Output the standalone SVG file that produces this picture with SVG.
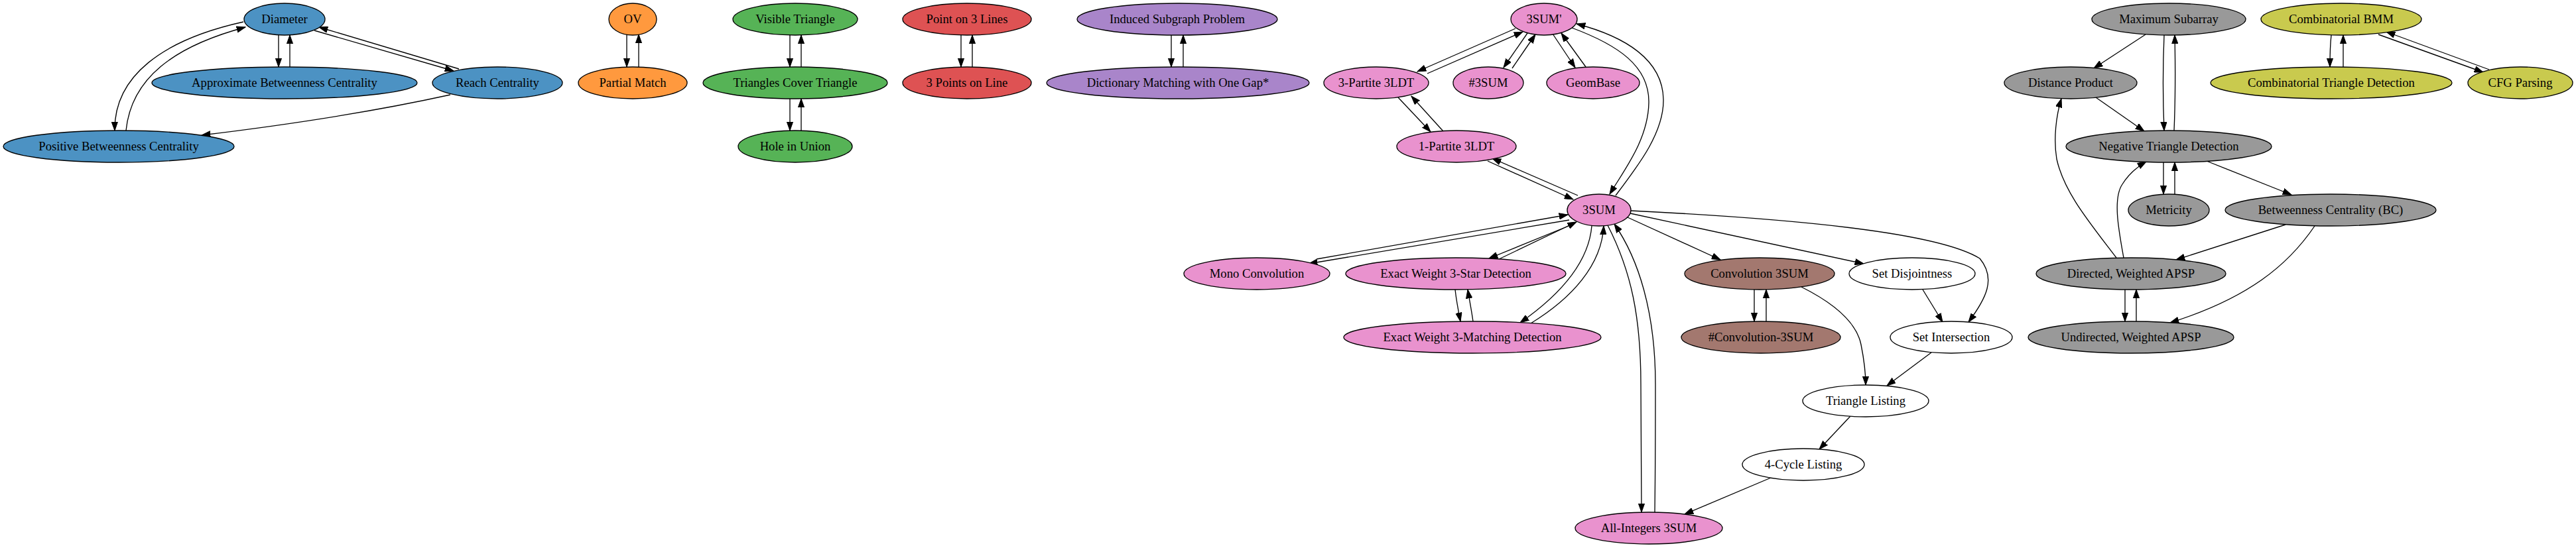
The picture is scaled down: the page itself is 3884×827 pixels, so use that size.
<svg xmlns="http://www.w3.org/2000/svg" width="3884" height="827" viewBox="0 0 3884 827">
<defs>
<marker id="ah" viewBox="0 0 14 10" refX="13.3" refY="5" markerWidth="14" markerHeight="10" markerUnits="userSpaceOnUse" orient="auto">
<path d="M0,0.3 L13.3,5 L0,9.7 z" fill="#000" stroke="#000" stroke-width="1"/>
</marker>
</defs>
<style>
.n ellipse{stroke:#000;stroke-width:1.33}
.n text{font-family:"Liberation Serif","Times New Roman",serif;font-size:18.67px;text-anchor:middle;fill:#000}
.blue{fill:#4c92c3}.orange{fill:#ff993e}.green{fill:#56b356}.red{fill:#de5253}.purple{fill:#a985ca}
.pink{fill:#e992ce}.brown{fill:#a3786f}.gray{fill:#999999}.olive{fill:#c9ca4e}.white{fill:#ffffff}
#edges path{fill:none;stroke:#000;stroke-width:1.33;marker-end:url(#ah)}
</style>
<rect width="3884" height="827" fill="#fff"/>
<g id="edges">
<path d="M420,53 L420,101"/>
<path d="M437,101 L437,53"/>
<path d="M474,46 L684,107"/>
<path d="M692,104 L481,41"/>
<path d="M367,33 C245,60 172,115 173,197"/>
<path d="M190,197 C198,118 262,70 370,41"/>
<path d="M679,143 Q520,178 304,204"/>
<path d="M945,52 L945,101"/>
<path d="M963,101 L963,52"/>
<path d="M1191,53 L1191,101"/>
<path d="M1208,101 L1208,53"/>
<path d="M1191,149 L1191,197"/>
<path d="M1208,197 L1208,149"/>
<path d="M1449,53 L1449,101"/>
<path d="M1466,101 L1466,53"/>
<path d="M1766,53 L1766,101"/>
<path d="M1784,101 L1784,53"/>
<path d="M2285,43 L2137,108"/>
<path d="M2152,111 L2296,48"/>
<path d="M2303,50 L2267,102"/>
<path d="M2280,103 L2315,52"/>
<path d="M2341,51 L2375,102"/>
<path d="M2391,101 L2354,50"/>
<path d="M2108,147 L2157,199"/>
<path d="M2176,198 L2128,145"/>
<path d="M2243,243 L2372,301"/>
<path d="M2379,295 L2250,239"/>
<path d="M2370,42 C2440,68 2487,100 2486,155 C2485,210 2450,255 2427,293"/>
<path d="M2436,295 C2470,250 2509,200 2508,150 C2507,90 2450,55 2377,36"/>
<path d="M2366,332 L1973,398"/>
<path d="M1985,391 L2364,324"/>
<path d="M2370,339 L2245,390"/>
<path d="M2258,392 L2377,335"/>
<path d="M2400,341 C2395,400 2345,450 2292,487"/>
<path d="M2308,488 C2370,450 2415,400 2418,341"/>
<path d="M2194,437 C2196,455 2199,470 2202,485"/>
<path d="M2221,485 C2219,470 2216,455 2213,437"/>
<path d="M2424,340 C2460,410 2474,480 2474,580 C2474,650 2475,720 2475,773"/>
<path d="M2495,773 C2496,700 2496,640 2496,580 C2496,470 2470,390 2434,338"/>
<path d="M2454,328 L2594,392"/>
<path d="M2458,322 L2810,398"/>
<path d="M2459,318 C2700,330 2920,350 2985,390 C3010,420 2995,450 2968,486"/>
<path d="M2645,437 L2645,485"/>
<path d="M2663,485 L2663,437"/>
<path d="M2716,433 C2770,460 2800,490 2806,520 C2811,545 2813,565 2813,581"/>
<path d="M2899,437 L2929,486"/>
<path d="M2912,532 L2845,582"/>
<path d="M2790,628 L2743,678"/>
<path d="M2670,721 L2540,776"/>
<path d="M3235,52 L3157,103"/>
<path d="M3263,53 C3261,100 3261,150 3263,197"/>
<path d="M3278,197 C3280,150 3280,100 3279,53"/>
<path d="M3160,147 L3233,198"/>
<path d="M3191,389 C3150,335 3112,290 3101,240 C3096,210 3100,175 3108,149"/>
<path d="M3202,389 C3195,350 3185,300 3200,278 C3210,262 3222,252 3236,244"/>
<path d="M3262,245 L3262,293"/>
<path d="M3279,293 L3279,245"/>
<path d="M3327,243 L3455,294"/>
<path d="M3446,339 L3281,392"/>
<path d="M3490,341 C3450,400 3390,450 3272,487"/>
<path d="M3204,437 L3204,485"/>
<path d="M3221,485 L3221,437"/>
<path d="M3515,53 C3513,70 3513,85 3513,101"/>
<path d="M3533,101 C3533,85 3533,70 3533,53"/>
<path d="M3586,52 L3744,109"/>
<path d="M3753,105 L3598,48"/>
</g>
<g id="diameter" class="n"><ellipse class="blue" cx="429" cy="29" rx="61" ry="24"/><text x="429" y="35">Diameter</text></g>
<g id="approx_bc" class="n"><ellipse class="blue" cx="429" cy="125" rx="200" ry="24"/><text x="429" y="131">Approximate Betweenness Centrality</text></g>
<g id="reach" class="n"><ellipse class="blue" cx="750" cy="125" rx="98" ry="24"/><text x="750" y="131">Reach Centrality</text></g>
<g id="pos_bc" class="n"><ellipse class="blue" cx="179" cy="221" rx="174" ry="24"/><text x="179" y="227">Positive Betweenness Centrality</text></g>
<g id="ov" class="n"><ellipse class="orange" cx="954" cy="29" rx="36" ry="24"/><text x="954" y="35">OV</text></g>
<g id="partial" class="n"><ellipse class="orange" cx="954" cy="125" rx="82" ry="24"/><text x="954" y="131">Partial Match</text></g>
<g id="visible" class="n"><ellipse class="green" cx="1199" cy="29" rx="94" ry="24"/><text x="1199" y="35">Visible Triangle</text></g>
<g id="tct" class="n"><ellipse class="green" cx="1199" cy="125" rx="139" ry="24"/><text x="1199" y="131">Triangles Cover Triangle</text></g>
<g id="hole" class="n"><ellipse class="green" cx="1199" cy="221" rx="86" ry="24"/><text x="1199" y="227">Hole in Union</text></g>
<g id="p3l" class="n"><ellipse class="red" cx="1458" cy="29" rx="97" ry="24"/><text x="1458" y="35">Point on 3 Lines</text></g>
<g id="pts3" class="n"><ellipse class="red" cx="1458" cy="125" rx="97" ry="24"/><text x="1458" y="131">3 Points on Line</text></g>
<g id="isp" class="n"><ellipse class="purple" cx="1775" cy="29" rx="151" ry="24"/><text x="1775" y="35">Induced Subgraph Problem</text></g>
<g id="dict" class="n"><ellipse class="purple" cx="1776" cy="125" rx="198" ry="24"/><text x="1776" y="131">Dictionary Matching with One Gap*</text></g>
<g id="sum3p" class="n"><ellipse class="pink" cx="2328" cy="29" rx="50" ry="24"/><text x="2328" y="35">3SUM'</text></g>
<g id="p3ldt" class="n"><ellipse class="pink" cx="2075" cy="125" rx="79" ry="24"/><text x="2075" y="131">3-Partite 3LDT</text></g>
<g id="sharp3sum" class="n"><ellipse class="pink" cx="2244" cy="125" rx="53" ry="24"/><text x="2244" y="131">#3SUM</text></g>
<g id="geombase" class="n"><ellipse class="pink" cx="2402" cy="125" rx="70" ry="24"/><text x="2402" y="131">GeomBase</text></g>
<g id="p1ldt" class="n"><ellipse class="pink" cx="2196" cy="221" rx="90" ry="24"/><text x="2196" y="227">1-Partite 3LDT</text></g>
<g id="sum3" class="n"><ellipse class="pink" cx="2411" cy="317" rx="48" ry="24"/><text x="2411" y="323">3SUM</text></g>
<g id="mono" class="n"><ellipse class="pink" cx="1895" cy="413" rx="110" ry="24"/><text x="1895" y="419">Mono Convolution</text></g>
<g id="star" class="n"><ellipse class="pink" cx="2195" cy="413" rx="166" ry="24"/><text x="2195" y="419">Exact Weight 3-Star Detection</text></g>
<g id="matching" class="n"><ellipse class="pink" cx="2220" cy="509" rx="194" ry="24"/><text x="2220" y="515">Exact Weight 3-Matching Detection</text></g>
<g id="allint" class="n"><ellipse class="pink" cx="2486" cy="797" rx="111" ry="24"/><text x="2486" y="803">All-Integers 3SUM</text></g>
<g id="conv" class="n"><ellipse class="brown" cx="2653" cy="413" rx="113" ry="24"/><text x="2653" y="419">Convolution 3SUM</text></g>
<g id="sharpconv" class="n"><ellipse class="brown" cx="2655" cy="509" rx="120" ry="24"/><text x="2655" y="515">#Convolution-3SUM</text></g>
<g id="setdis" class="n"><ellipse class="white" cx="2883" cy="413" rx="95" ry="24"/><text x="2883" y="419">Set Disjointness</text></g>
<g id="setint" class="n"><ellipse class="white" cx="2942" cy="509" rx="92" ry="24"/><text x="2942" y="515">Set Intersection</text></g>
<g id="trilist" class="n"><ellipse class="white" cx="2813" cy="605" rx="95" ry="24"/><text x="2813" y="611">Triangle Listing</text></g>
<g id="c4list" class="n"><ellipse class="white" cx="2719" cy="701" rx="92" ry="24"/><text x="2719" y="707">4-Cycle Listing</text></g>
<g id="maxsub" class="n"><ellipse class="gray" cx="3270" cy="29" rx="116" ry="24"/><text x="3270" y="35">Maximum Subarray</text></g>
<g id="distprod" class="n"><ellipse class="gray" cx="3122" cy="125" rx="100" ry="24"/><text x="3122" y="131">Distance Product</text></g>
<g id="ntd" class="n"><ellipse class="gray" cx="3270" cy="221" rx="155" ry="24"/><text x="3270" y="227">Negative Triangle Detection</text></g>
<g id="metricity" class="n"><ellipse class="gray" cx="3270" cy="317" rx="61" ry="24"/><text x="3270" y="323">Metricity</text></g>
<g id="bc" class="n"><ellipse class="gray" cx="3514" cy="317" rx="159" ry="24"/><text x="3514" y="323">Betweenness Centrality (BC)</text></g>
<g id="dapsp" class="n"><ellipse class="gray" cx="3213" cy="413" rx="143" ry="24"/><text x="3213" y="419">Directed, Weighted APSP</text></g>
<g id="uapsp" class="n"><ellipse class="gray" cx="3213" cy="509" rx="155" ry="24"/><text x="3213" y="515">Undirected, Weighted APSP</text></g>
<g id="cbmm" class="n"><ellipse class="olive" cx="3530" cy="29" rx="121" ry="24"/><text x="3530" y="35">Combinatorial BMM</text></g>
<g id="ctd" class="n"><ellipse class="olive" cx="3515" cy="125" rx="182" ry="24"/><text x="3515" y="131">Combinatorial Triangle Detection</text></g>
<g id="cfg" class="n"><ellipse class="olive" cx="3800" cy="125" rx="79" ry="24"/><text x="3800" y="131">CFG Parsing</text></g>
</svg>
